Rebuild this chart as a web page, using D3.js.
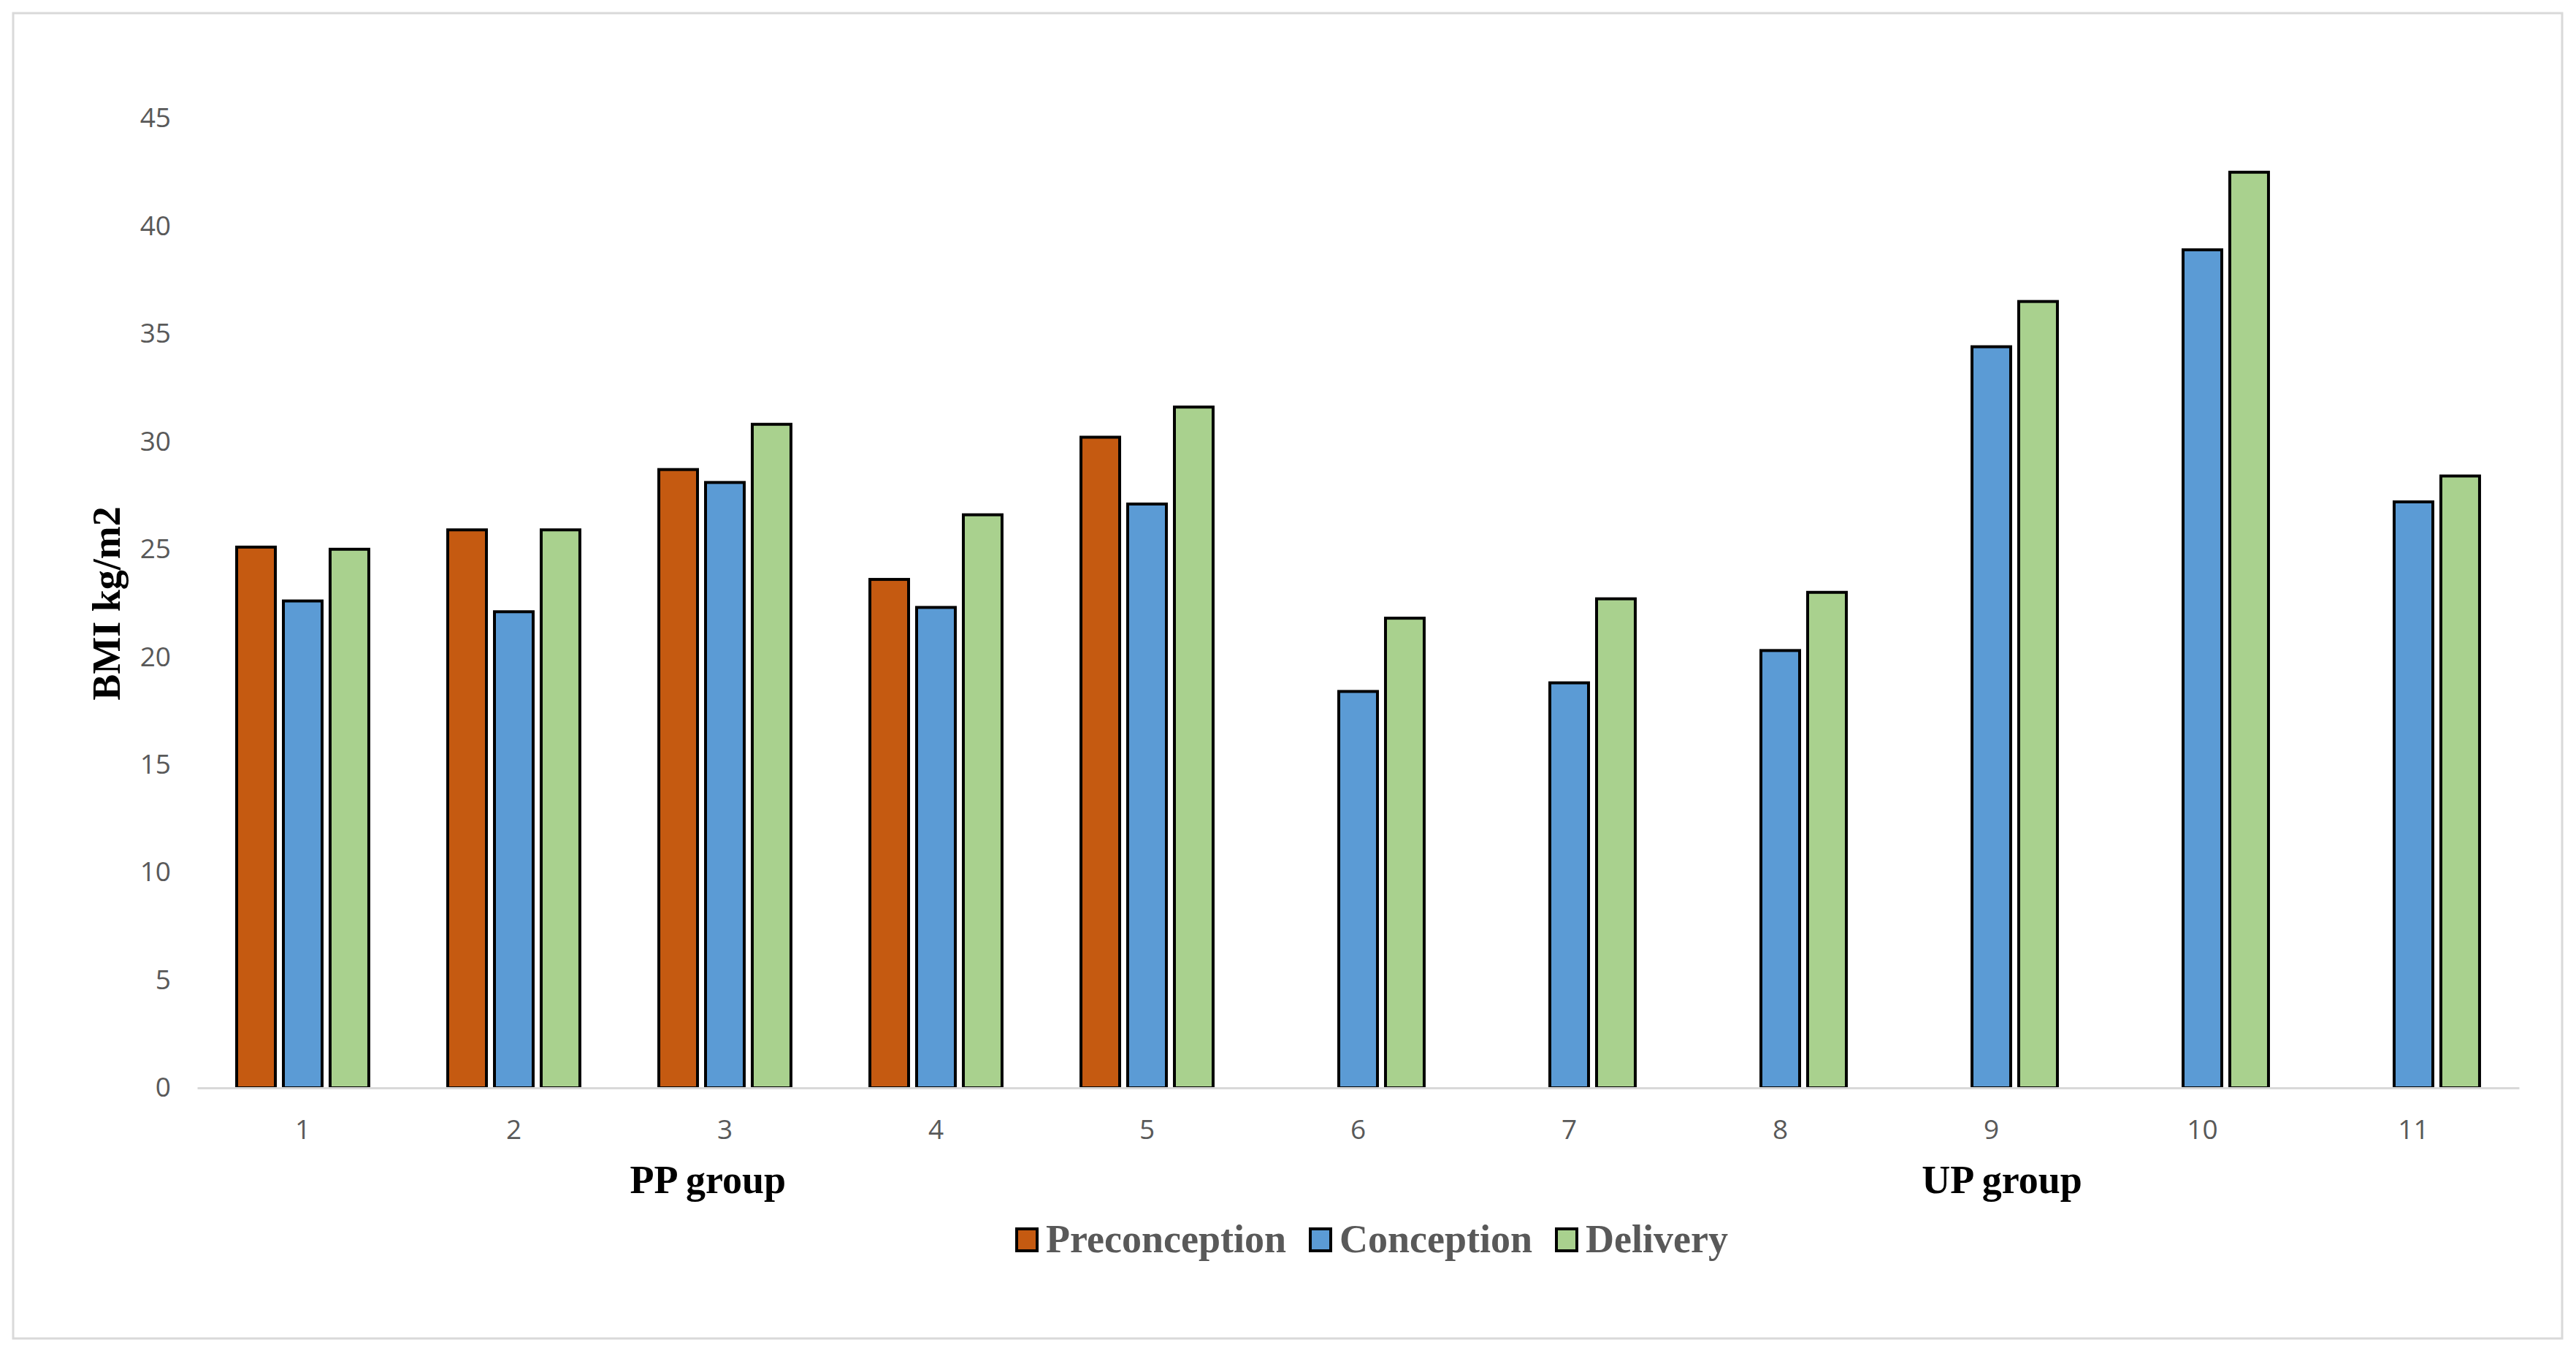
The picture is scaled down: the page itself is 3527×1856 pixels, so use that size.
<!DOCTYPE html>
<html>
<head>
<meta charset="utf-8">
<script src="https://d3js.org/d3.v7.min.js"></script>
<style>
  body { margin: 0; background: #fff; }
  svg { display: block; }
</style>
</head>
<body>
<svg id="chart" width="3527" height="1856"></svg>
<script>
// values
var categories = ["1", "2", "3", "4", "5", "6", "7", "8", "9", "10", "11"];
var seriesNames = ["Preconception", "Conception", "Delivery"];
var preconception = [25.1, 25.9, 28.7, 23.6, 30.2, null, null, null, null, null, null];
var conception = [22.6, 22.1, 28.1, 22.3, 27.1, 18.4, 18.8, 20.3, 34.4, 38.9, 27.2];
var delivery = [25.0, 25.9, 30.8, 26.6, 31.6, 21.8, 22.7, 23.0, 36.5, 42.5, 28.4];
var yTicks = [0, 5, 10, 15, 20, 25, 30, 35, 40, 45];
var groupLabels = ["PP group", "UP group"];
var groupAt = [2.92, 9.05]; // in category units (1-based)

var colors = ["#c55a11", "#5b9bd5", "#a9d18e"];
var seriesValues = [preconception, conception, delivery];

var svg = d3.select("#chart"),
	plotLeft = 270, plotRight = 3449, plotTop = 162, plotBottom = 1489;

svg.append("rect")
	.attr("width", 3527).attr("height", 1856)
	.attr("fill", "#fff");

// chart frame
svg.append("rect")
	.attr("x", 18).attr("y", 18)
	.attr("width", 3490).attr("height", 1814)
	.attr("fill", "none")
	.attr("stroke", "#d9d9d9")
	.attr("stroke-width", 3);

var x0 = d3.scaleBand()
	.domain(categories)
	.range([plotLeft, plotRight])
	.paddingInner(0.374)
	.paddingOuter(0.187);

var x1 = d3.scaleBand()
	.domain(seriesNames)
	.range([0, x0.bandwidth()])
	.paddingInner(0.172);

var y = d3.scaleLinear()
	.domain([0, 45])
	.range([plotBottom, plotTop]);

var color = d3.scaleOrdinal().domain(seriesNames).range(colors);

// flatten into one row per bar, skip missing ones
var rows = [];
categories.forEach(function(c, i) {
	seriesNames.forEach(function(s, j) {
		var v = seriesValues[j][i];
		if (v != null) rows.push({cat: c, series: s, value: v});
	});
});

// y axis labels (no line, no ticks)
var yAxis = svg.append("g")
	.attr("transform", "translate(234,0)")
	.call(d3.axisLeft(y).tickValues(yTicks).tickSize(0).tickPadding(0));
yAxis.select(".domain").remove();
yAxis.selectAll("text")
	.attr("font-family", "'Open Sans', sans-serif")
	.attr("font-size", 37)
	.attr("fill", "#595959");

// bars
svg.append("g")
	.selectAll("rect")
	.data(rows)
	.join("rect")
	.attr("x", function(d) { return x0(d.cat) + x1(d.series); })
	.attr("y", function(d) { return y(d.value); })
	.attr("width", x1.bandwidth())
	.attr("height", function(d) { return y(0) - y(d.value); })
	.attr("fill", function(d) { return color(d.series); })
	.attr("stroke", "#000")
	.attr("stroke-width", 4);

// x axis
var xAxis = svg.append("g")
	.attr("transform", "translate(0," + plotBottom + ")")
	.call(d3.axisBottom(x0).tickSize(0).tickPadding(44).tickSizeOuter(0));
xAxis.select(".domain")
	.attr("stroke", "#d9d9d9")
	.attr("stroke-width", 3);
xAxis.selectAll("text")
	.attr("font-family", "'Open Sans', sans-serif")
	.attr("font-size", 37)
	.attr("fill", "#595959");

// y title
svg.append("text")
	.attr("transform", "translate(164,826) rotate(-90)")
	.attr("text-anchor", "middle")
	.attr("font-family", "'Liberation Serif', serif")
	.attr("font-weight", "bold")
	.attr("font-size", 54)
	.attr("fill", "#000")
	.text("BMI kg/m2");

// group captions
var catPos = d3.scaleLinear()
	.domain([1, categories.length])
	.range([x0(categories[0]) + x0.bandwidth() / 2, x0(categories[categories.length - 1]) + x0.bandwidth() / 2]);

svg.append("g")
	.selectAll("text")
	.data(groupLabels)
	.join("text")
	.attr("x", function(d, i) { return catPos(groupAt[i]); })
	.attr("y", 1633)
	.attr("text-anchor", "middle")
	.attr("font-family", "'Liberation Serif', serif")
	.attr("font-weight", "bold")
	.attr("font-size", 54)
	.attr("fill", "#000")
	.text(function(d) { return d; });

// legend
var legendX = [1392, 1794, 2131];
var legend = svg.append("g")
	.selectAll("g")
	.data(seriesNames)
	.join("g")
	.attr("transform", function(d, i) { return "translate(" + legendX[i] + ",1682)"; });

legend.append("rect")
	.attr("width", 28).attr("height", 30)
	.attr("fill", function(d) { return color(d); })
	.attr("stroke", "#000")
	.attr("stroke-width", 4);

legend.append("text")
	.attr("x", 40)
	.attr("y", 32)
	.attr("font-family", "'Liberation Serif', serif")
	.attr("font-weight", "bold")
	.attr("font-size", 54)
	.attr("fill", "#595959")
	.text(function(d) { return d; });
</script>
</body>
</html>
